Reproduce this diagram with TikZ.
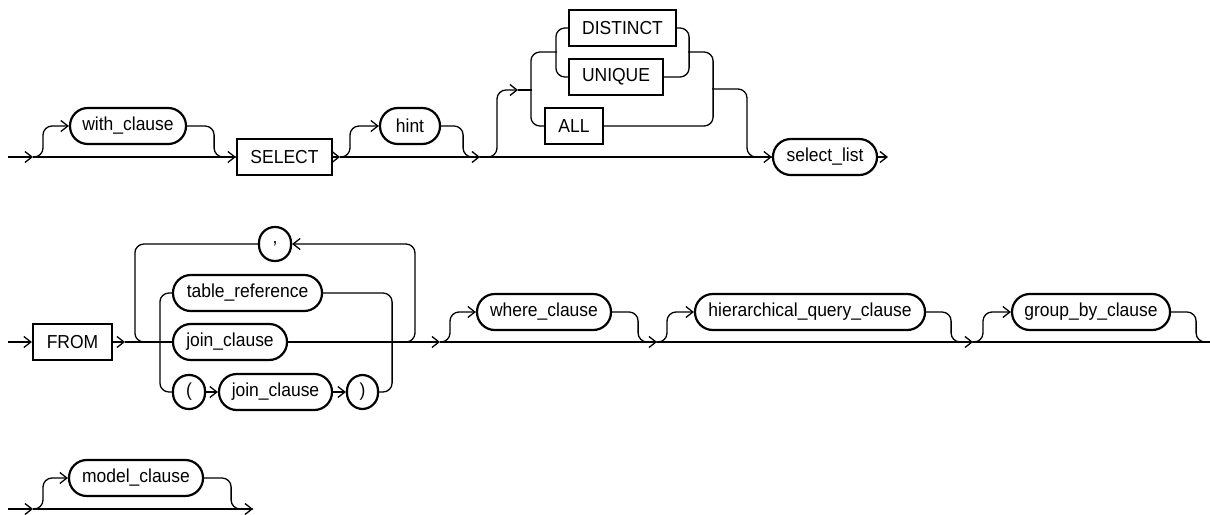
\documentclass[tikz,border=0pt]{standalone}
\usepackage{fontspec}
\setmainfont{Liberation Sans}[FakeStretch=0.93]
\usetikzlibrary{arrows.meta}
\tikzset{
  base/.style={draw, line width=1.1pt, inner sep=0pt, minimum height=18pt, font=\fontsize{9.4pt}{11pt}\selectfont},
  pill/.style={base, rounded corners=8.9pt},
  smallpill/.style={base, rounded corners=7.9pt, minimum height=17pt},
  kw/.style={base, rectangle},
  conn/.style={line width=0.65pt, rounded corners=4.5pt},
  arr/.style={conn, -{Straight Barb[length=3.5pt,width=5.5pt]}}
}
\begin{document}
\begin{tikzpicture}[x=0.5pt,y=-0.5pt]
\useasboundingbox (0,0) rectangle (1210,514);
% ---------- row 1 ----------
\node[pill, minimum width=58pt] (with) at (128,126) {with\_clause};
\node[kw, minimum width=47.5pt] (select) at (284.5,157) {SELECT};
\node[pill, minimum width=30pt] (hint) at (410,126) {hint};
\node[kw, minimum width=53.5pt] (distinct) at (622.5,28) {DISTINCT};
\node[kw, minimum width=47pt] (unique) at (616,77) {UNIQUE};
\node[kw, minimum width=29pt] (all) at (574,126) {ALL};
\node[pill, minimum width=52pt] (sel) at (825,157) {select\_list};
\coordinate (s1) at (8,157);
\coordinate (r1a) at (33,157);
\coordinate (r1b) at (340,157);
\coordinate (r1c) at (480,157);
\coordinate (e1) at (888,157);
\coordinate (ent) at (518,90);
\coordinate (olm) at (532,90);
\coordinate (il) at (557,52);
\coordinate (ir) at (688,52);
\coordinate (orm) at (712,89);
\draw[arr] (s1) -- (r1a);
\draw[arr] (r1a) -- (select.west);
\draw[arr] (select.east) -- (r1b);
\draw[arr] (r1b) -- (r1c);
\draw[arr] (r1c) -- (sel.west);
\draw[arr] (sel.east) -- (e1);
\draw[arr] (r1a) -- ++(10,0) |- (with.west);
\draw[conn] (with.east) -- ++(27,0) |- (select.west);
\draw[arr] (r1b) -- ++(10,0) |- (hint.west);
\draw[conn] (hint.east) -- ++(22,0) |- (r1c);
\draw[arr] (r1c) -- ++(17,0) |- (ent);
\draw[conn] (ent) -- (olm);
\draw[conn] (all.west) -- ++(-13,0) |- (il);
\draw[conn] (distinct.west) -- ++(-12,0) |- (unique.west);
\draw[conn] (distinct.east) -- ++(12,0) |- (unique.east);
\draw[conn] (all.east) -- ++(109,0) |- (ir);
\draw[conn] (orm) -- ++(35,0) |- (sel.west);
% ---------- row 2 ----------
\node[kw, minimum width=39.5pt] (from) at (72.5,342) {FROM};
\node[smallpill, minimum width=16pt] (comma) at (275,244) {,};
\node[pill, minimum width=74.5pt] (tref) at (247.5,293) {table\_reference};
\node[pill, minimum width=57pt] (jc) at (230,342) {join\_clause};
\node[smallpill, minimum width=16pt] (lp) at (189,392) {(};
\node[pill, minimum width=56.5pt] (jc2) at (275.5,392) {join\_clause};
\node[smallpill, minimum width=15.5pt] (rp) at (362.5,392) {)};
\node[pill, minimum width=67pt] (where) at (544,312) {where\_clause};
\node[pill, minimum width=115pt] (hier) at (810,312) {hierarchical\_query\_clause};
\node[pill, minimum width=79pt] (grp) at (1091,312) {group\_by\_clause};
\coordinate (s2) at (8,342);
\coordinate (r2a) at (125,342);
\coordinate (cl) at (150,342);
\coordinate (cr) at (403,342);
\coordinate (r2b) at (440,342);
\coordinate (r2c) at (657,342);
\coordinate (r2d) at (973,342);
\coordinate (e2) at (1210,342);
\draw[arr] (s2) -- (from.west);
\draw[arr] (from.east) -- (r2a);
\draw[conn] (r2a) -- (jc.west);
\draw[arr] (jc.east) -- (r2b);
\draw[arr] (r2b) -- (r2c);
\draw[arr] (r2c) -- (r2d);
\draw[conn] (r2d) -- (e2);
\draw[arr] (cr) -- ++(12,0) |- (comma.east);
\draw[conn] (comma.west) -- ++(-123,0) |- (cl);
\draw[conn] (tref.west) -- ++(-12,0) |- (lp.west);
\draw[conn] (tref.east) -- ++(69,0) |- (rp.east);
\draw[arr] (lp.east) -- (jc2.west);
\draw[arr] (jc2.east) -- (rp.west);
\draw[arr] (r2b) -- ++(10,0) |- (where.west);
\draw[conn] (where.east) -- ++(26,0) |- (r2c);
\draw[arr] (r2c) -- ++(10,0) |- (hier.west);
\draw[conn] (hier.east) -- ++(25,0) |- (r2d);
\draw[arr] (r2d) -- ++(10,0) |- (grp.west);
\draw[conn] (grp.east) -- ++(25,0) |- (e2);
% ---------- row 3 ----------
\node[pill, minimum width=67pt] (model) at (136,478) {model\_clause};
\coordinate (s3) at (8,509);
\coordinate (r3a) at (33,509);
\coordinate (e3) at (253,509);
\draw[arr] (s3) -- (r3a);
\draw[arr] (r3a) -- (e3);
\draw[arr] (r3a) -- ++(10,0) |- (model.west);
\draw[conn] (model.east) -- ++(27,0) |- (e3);
\end{tikzpicture}
\end{document}
